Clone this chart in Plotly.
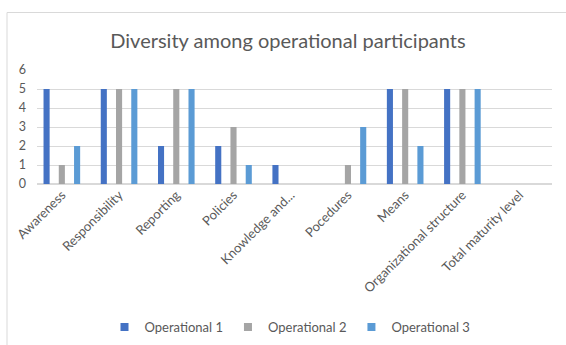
import plotly.graph_objects as go

categories = ["Awareness", "Responsibility", "Reporting", "Policies", "Knowledge and...",
              "Pocedures", "Means", "Organizational structure", "Total maturity level"]
op1 = [5, 5, 2, 2, 1, 0, 5, 5, 0]
op2 = [1, 5, 5, 3, 0, 1, 5, 5, 0]
op3 = [2, 5, 5, 1, 0, 3, 2, 5, 0]
series_names = ["Operational 1", "Operational 2", "Operational 3"]
colors = ["#4472C4", "#A5A5A5", "#5B9BD5"]

W, H = 566, 345
L, R, T, B = 37, 14, 70, 161
pw, ph = W - L - R, H - T - B

def px_x(x):
    return (x - L) / pw

def px_y(y):
    return (H - B - y) / ph

fig = go.Figure()
for name, vals, c in zip(series_names, [op1, op2, op3], colors):
    fig.add_trace(go.Bar(x=categories, y=vals, name=name, marker_color=c, marker_line_width=0,
                         showlegend=False))
    fig.add_trace(go.Scatter(x=[None], y=[None], mode="markers", name=name,
                             marker=dict(symbol="square", size=8, color=c)))

fig.update_layout(
    width=W, height=H,
    margin=dict(l=L, r=R, t=T, b=B, autoexpand=False),
    paper_bgcolor="white", plot_bgcolor="white",
    barmode="group", bargap=0.2, bargroupgap=0.6,
    font=dict(family="Lato", color="#595959", size=12),
    title=dict(text="Diversity among operational participants", x=288 / W, xanchor="center",
               y=1 - 41 / H, yanchor="middle", font=dict(size=20, color="#595959")),
    xaxis=dict(tickangle=-45, showgrid=False, showline=False, ticks="", automargin=False,
               range=[-0.434, 8.566], tickfont=dict(size=13, color="#595959")),
    yaxis=dict(range=[0, 6], dtick=1, showgrid=True, gridcolor="#D9D9D9", gridwidth=1,
               zeroline=True, zerolinecolor="#D9D9D9", showline=False, ticks="",
               ticklabelstandoff=10,
               automargin=False, tickfont=dict(size=12.5, color="#595959")),
    legend=dict(orientation="h", x=px_x(290), xanchor="center", y=px_y(327), yanchor="middle",
                font=dict(size=13, color="#595959"), itemwidth=30,
                tracegroupgap=0),
    showlegend=True,
    shapes=[dict(type="rect", xref="paper", yref="paper", x0=px_x(7), y0=px_y(12.5),
                 x1=px_x(700), y1=px_y(500), line=dict(color="#D9D9D9", width=1),
                 fillcolor="rgba(0,0,0,0)", layer="below")],
)

fig.write_html("out.html")
